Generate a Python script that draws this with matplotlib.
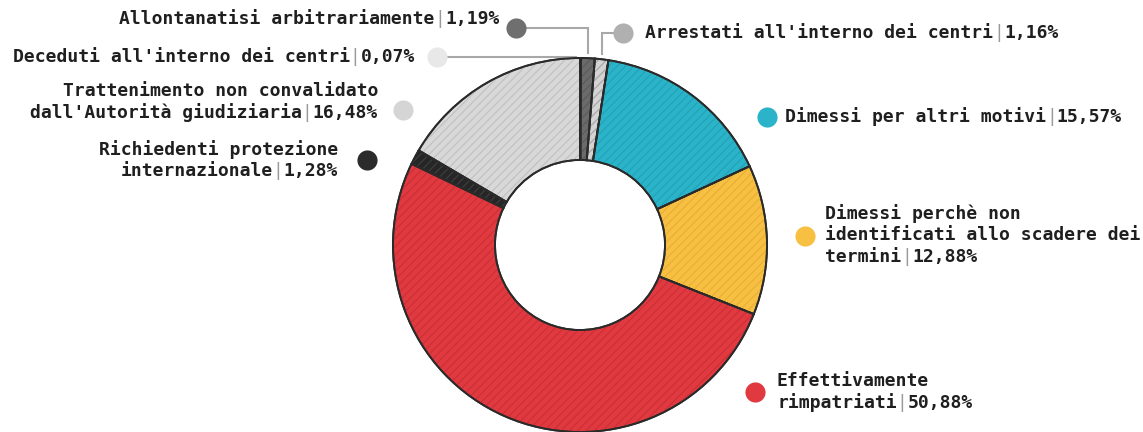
import numpy as np
import matplotlib
matplotlib.use("Agg")
import matplotlib.pyplot as plt

# Slice data, clockwise from 12 o'clock
categories = [
    "Deceduti all'interno dei centri",
    "Allontanatisi arbitrariamente",
    "Arrestati all'interno dei centri",
    "Dimessi per altri motivi",
    "Dimessi perchè non identificati allo scadere dei termini",
    "Effettivamente rimpatriati",
    "Richiedenti protezione internazionale",
    "Trattenimento non convalidato dall'Autorità giudiziaria",
]
values = [0.07, 1.19, 1.16, 15.57, 12.88, 50.88, 1.28, 16.48]
pct_labels = ["0,07%", "1,19%", "1,16%", "15,57%", "12,88%", "50,88%", "1,28%", "16,48%"]
label_lines = [
    ["Deceduti all'interno dei centri"],
    ["Allontanatisi arbitrariamente"],
    ["Arrestati all'interno dei centri"],
    ["Dimessi per altri motivi"],
    ["Dimessi perchè non", "identificati allo scadere dei", "termini"],
    ["Effettivamente", "rimpatriati"],
    ["Richiedenti protezione", "internazionale"],
    ["Trattenimento non convalidato", "dall'Autorità giudiziaria"],
]

fill_colors = ["#f4f4f4", "#6b6b6b", "#d4d4d4", "#2bb4c9", "#f8c043",
               "#e03a40", "#262626", "#d8d8d8"]
hatch_colors = ["#e0e0e0", "#5c5c5c", "#a8a8a8", "#23a3b7", "#e8b034",
                "#cc3036", "#3e3e3e", "#c2c2c2"]
dot_colors = ["#e8e8e8", "#6f6f6f", "#b0b0b0", "#2bb4c9", "#f8c043",
              "#e03a40", "#2b2b2b", "#d5d5d5"]

W, H = 1143, 432
fig = plt.figure(figsize=(W / 100, H / 100), dpi=100)
ax = fig.add_axes([0, 0, 1, 1])

cx, cy = 580, H - 245
R, R_in = 187, 85
ring = R - R_in

plt.rcParams["hatch.linewidth"] = 0.9

wedges, _ = ax.pie(values, colors=fill_colors, startangle=90, counterclock=False,
                   center=(cx, cy), radius=R,
                   wedgeprops=dict(width=ring, edgecolor="#2e2e2e", linewidth=1.3))
# diagonal hatch overlay in a darker shade of each fill
hw, _ = ax.pie(values, startangle=90, counterclock=False, center=(cx, cy), radius=R,
               wedgeprops=dict(width=ring, linewidth=0))
for w, hc in zip(hw, hatch_colors):
    w.set_facecolor("none")
    w.set_edgecolor(hc)
    w.set_hatch("////")
    w.set_zorder(wedges[0].get_zorder() + 0.1)
# outline on top of hatch
ow, _ = ax.pie(values, startangle=90, counterclock=False, center=(cx, cy), radius=R,
               wedgeprops=dict(width=ring, facecolor="none", edgecolor="#2a2a2a",
                               linewidth=1.4))
for w in ow:
    w.set_zorder(wedges[0].get_zorder() + 0.2)

ax.set_xlim(0, W)
ax.set_ylim(0, H)
ax.set_aspect("auto")
ax.axis("off")

FONT = dict(family="DejaVu Sans Mono", fontsize=13, fontweight="bold", color="#1f1f1f")
BAR = dict(family="DejaVu Sans Mono", fontsize=13, fontweight="normal", color="#9a9a9a")


def label_line(x, y, name, pct=None, ha="left"):
    """Draw one text line; when pct is given append a thin bar and the value."""
    if pct is None:
        ax.text(x, y, name, ha=ha, va="center", **FONT)
        return
    if ha == "left":
        t1 = ax.text(x, y, name, ha="left", va="center", **FONT)
        t2 = ax.annotate("|", xy=(1, 0.5), xycoords=t1, ha="left", va="center", **BAR)
        ax.annotate(pct, xy=(1, 0.5), xycoords=t2, ha="left", va="center", **FONT)
    else:
        t1 = ax.text(x, y, pct, ha="right", va="center", **FONT)
        t2 = ax.annotate("|", xy=(0, 0.5), xycoords=t1, ha="right", va="center", **BAR)
        ax.annotate(name, xy=(0, 0.5), xycoords=t2, ha="right", va="center", **FONT)


# label layout: (text anchor x, first-line y in px from top, alignment, dot x, dot y)
layout = [
    (415, 57, "right", 437, 57),
    (500, 19, "right", 516, 28),
    (645, 33, "left", 623, 33),
    (785, 117, "left", 767, 117),
    (825, 214, "left", 805, 236),
    (777, 381, "left", 755, 392),
    (338, 150, "right", 367, 160),
    (378, 91, "right", 403, 110),
]
LINE_H = 21.5

for i, (tx, ty, ha, dx, dy) in enumerate(layout):
    lines = label_lines[i]
    for j, ln in enumerate(lines):
        ypix = ty + j * LINE_H
        label_line(tx, H - ypix, ln, pct_labels[i] if j == len(lines) - 1 else None, ha=ha)
    ax.plot(dx, H - dy, "o", markersize=14.5, color=dot_colors[i],
            markeredgewidth=0, zorder=6)

# leader lines for the three thin slices at the top
lead_col = "#a8a8a8"
for i in (0, 1, 2):
    w = wedges[i]
    mid = np.deg2rad((w.theta1 + w.theta2) / 2)
    ex = cx + R * np.cos(mid)
    ey = cy + R * np.sin(mid)
    tx, ty, ha, dx, dy = layout[i]
    if i == 0:
        ax.plot([dx, ex - 4], [H - dy, H - dy], color=lead_col, lw=1.5, zorder=1)
    else:
        ax.plot([dx, ex, ex], [H - dy, H - dy, ey + 5], color=lead_col, lw=1.5,
                zorder=1, solid_joinstyle="miter")

fig.savefig("out.png", dpi=100, facecolor="white")
